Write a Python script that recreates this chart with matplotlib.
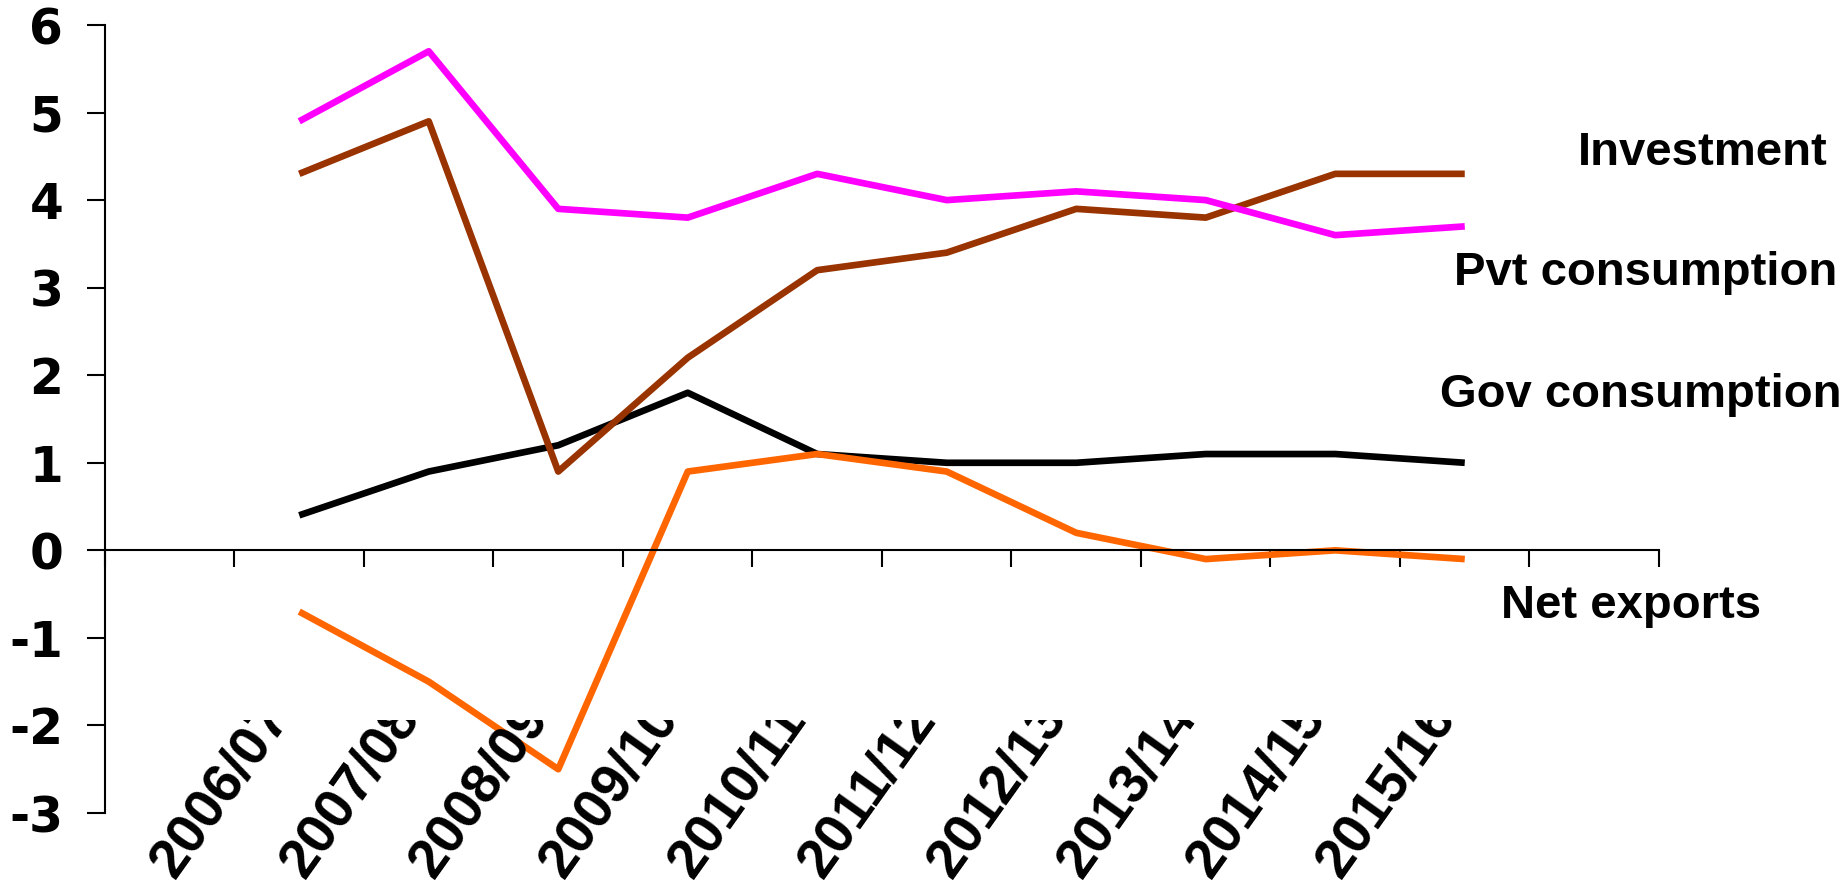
import matplotlib.pyplot as plt
from matplotlib.transforms import Bbox

years = ["2006/07", "2007/08", "2008/09", "2009/10", "2010/11",
         "2011/12", "2012/13", "2013/14", "2014/15", "2015/16"]

pvt_consumption = [4.9, 5.7, 3.9, 3.8, 4.3, 4.0, 4.1, 4.0, 3.6, 3.7]
investment = [4.3, 4.9, 0.9, 2.2, 3.2, 3.4, 3.9, 3.8, 4.3, 4.3]
gov_consumption = [0.4, 0.9, 1.2, 1.8, 1.1, 1.0, 1.0, 1.1, 1.1, 1.0]
net_exports = [-0.7, -1.5, -2.5, 0.9, 1.1, 0.9, 0.2, -0.1, 0.0, -0.1]

y_ticks = [-3, -2, -1, 0, 1, 2, 3, 4, 5, 6]

W, H = 1847, 896
fig = plt.figure(figsize=(W / 100, H / 100), dpi=100)
ax = fig.add_axes([105 / W, 83 / H, 1554 / W, 788 / H])

# one empty slot on each side of the ten years
n_slots = len(years) + 2
x = [i + 1.5 for i in range(len(years))]

lw = 4.8
ax.plot(x, gov_consumption, color="black", lw=lw, solid_capstyle="butt")
ax.plot(x, investment, color="#993300", lw=lw, solid_capstyle="butt")
ax.plot(x, pvt_consumption, color="#FF00FF", lw=lw, solid_capstyle="butt")
ax.plot(x, net_exports, color="#FF6600", lw=lw, solid_capstyle="butt")

ax.set_xlim(0, n_slots)
ax.set_ylim(-3, 6)

for side in ("top", "right"):
    ax.spines[side].set_visible(False)
ax.spines["bottom"].set_position(("data", 0))
ax.spines["bottom"].set_linewidth(1.5)
ax.spines["left"].set_linewidth(1.5)

ax.set_xticks(range(n_slots + 1))
ax.set_xticklabels([])
ax.tick_params(axis="x", direction="out", length=12, width=1.5)

ax.set_yticks(y_ticks)
ax.set_yticklabels([str(v) for v in y_ticks])
ax.tick_params(axis="y", direction="out", length=13, width=1.5, pad=17)
for lab in ax.get_yticklabels():
    lab.set_fontfamily("DejaVu Sans")
    lab.set_fontweight("bold")
    lab.set_fontsize(35)

# rotated year labels, trimmed along a horizontal line
clip = Bbox.from_extents(0, 0, W, H - 720)
for xi, yr in zip(x, years):
    t = ax.text(xi - 0.965, -3.77, yr, rotation=54.5, rotation_mode="anchor",
                ha="left", va="baseline", fontsize=40, fontweight="bold",
                family="Liberation Sans")
    t.set_clip_path(None)
    t.set_clip_box(clip)
    t.set_clip_on(True)

label_font = dict(fontsize=34, fontweight="bold", family="Liberation Sans",
                  ha="left", va="baseline")
ax.text(11.37, 4.40, "Investment", **label_font)
ax.text(10.42, 3.03, "Pvt consumption", **label_font)
ax.text(10.31, 1.64, "Gov consumption", **label_font)
ax.text(10.78, -0.77, "Net exports", **label_font)

fig.savefig("out.png", dpi=100)
plt.close(fig)
